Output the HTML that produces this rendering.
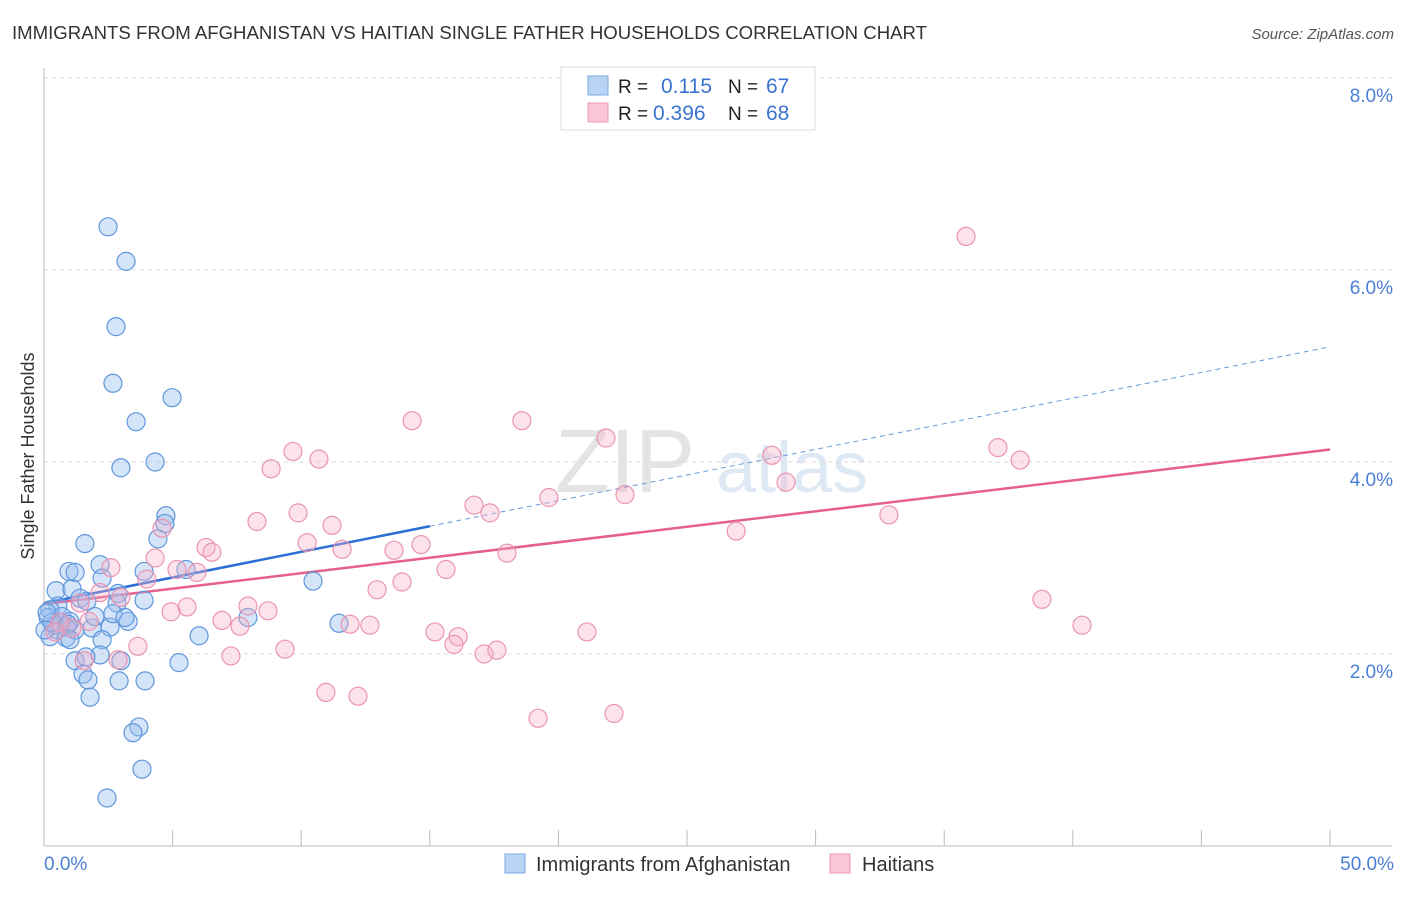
<!DOCTYPE html>
<html><head><meta charset="utf-8"><style>
body{margin:0;background:#fff;font-family:"Liberation Sans",sans-serif;}
svg text{font-family:"Liberation Sans",sans-serif;}
</style></head><body>
<svg id="chart" width="1406" height="892">
<text x="12" y="39" font-size="18.6" fill="#333">IMMIGRANTS FROM AFGHANISTAN VS HAITIAN SINGLE FATHER HOUSEHOLDS CORRELATION CHART</text>
<text x="1394" y="39" font-size="15" fill="#555" font-style="italic" text-anchor="end">Source: ZipAtlas.com</text>
<text transform="translate(34,456) rotate(-90)" font-size="18" fill="#333" text-anchor="middle">Single Father Households</text>
<g><text x="555" y="492" font-size="90" fill="#e4e4e4" font-family="Liberation Serif">ZIP</text><text x="716" y="492" font-size="72" fill="#dfe8f5">atlas</text></g>
<g id="grid"></g><g id="axes"></g><g id="trends"></g><g id="pts"></g>
<g>
<rect x="561" y="67" width="254" height="63" fill="#fff" stroke="#ddd"/>
<rect x="588" y="76" width="20" height="19" fill="#b9d3f5" stroke="#7aa8e3"/>
<rect x="588" y="103" width="20" height="19" fill="#f9c6d6" stroke="#ee9ab6"/>
<text x="618" y="93" font-size="19" fill="#222">R = </text><text x="661" y="93" font-size="21" fill="#3a74d0">0.115</text>
<text x="728" y="93" font-size="19" fill="#222">N = </text><text x="766" y="93" font-size="21" fill="#3a74d0">67</text>
<text x="618" y="120" font-size="19" fill="#222">R = </text><text x="653" y="120" font-size="21" fill="#3a74d0">0.396</text>
<text x="728" y="120" font-size="19" fill="#222">N = </text><text x="766" y="120" font-size="21" fill="#3a74d0">68</text>
</g>
<g>
<rect x="505" y="854" width="20" height="19" fill="#b9d3f5" stroke="#7aa8e3"/>
<text x="536" y="871" font-size="20" fill="#333">Immigrants from Afghanistan</text>
<rect x="830" y="854" width="20" height="19" fill="#f9c6d6" stroke="#ee9ab6"/>
<text x="862" y="871" font-size="20" fill="#333">Haitians</text>
</g>
</svg>
<script>
const blueX=[2.49,3.19,2.80,2.68,3.58,4.98,2.99,4.32,4.74,4.70,4.43,1.59,0.97,1.21,2.18,2.26,3.89,5.52,0.47,1.09,1.40,1.67,2.84,0.54,0.23,0.16,0.70,1.01,0.86,0.51,0.23,0.86,1.21,1.87,1.98,2.57,2.68,3.27,3.15,2.26,2.18,1.21,1.63,1.52,1.71,1.79,2.99,2.92,3.93,5.25,6.03,7.93,10.46,11.47,3.69,3.46,3.81,2.45,0.43,0.62,0.04,0.31,0.12,0.93,2.88,3.89,1.01];
const blueY=[6.45,6.09,5.41,4.82,4.42,4.67,3.94,4.00,3.44,3.36,3.20,3.15,2.86,2.85,2.93,2.79,2.86,2.88,2.66,2.68,2.58,2.55,2.53,2.50,2.46,2.38,2.39,2.34,2.28,2.25,2.18,2.17,2.25,2.27,2.39,2.28,2.42,2.34,2.38,2.15,1.99,1.93,1.97,1.79,1.73,1.55,1.93,1.72,1.72,1.91,2.19,2.38,2.76,2.32,1.24,1.18,0.80,0.50,2.30,2.33,2.25,2.33,2.43,2.31,2.63,2.56,2.15];
const pinkX=[35.85,14.31,18.58,21.85,37.09,37.95,28.30,9.68,10.69,8.83,16.72,17.34,19.63,22.59,28.85,32.85,26.91,9.88,8.28,11.20,4.59,6.30,6.53,10.23,11.59,13.61,14.66,18.00,4.32,2.60,5.17,5.95,4.00,15.63,13.92,12.95,7.93,8.71,5.56,4.94,6.92,7.62,11.90,12.67,2.99,2.18,2.88,3.65,7.27,9.37,15.20,16.10,15.94,17.11,17.61,21.11,38.80,40.36,10.96,12.21,19.21,22.16,1.75,1.09,0.62,0.43,1.40,1.56];
const pinkY=[6.35,4.43,4.43,4.25,4.15,4.02,4.07,4.11,4.03,3.93,3.55,3.47,3.63,3.66,3.79,3.45,3.28,3.47,3.38,3.34,3.31,3.11,3.06,3.16,3.09,3.08,3.14,3.05,3.00,2.90,2.88,2.85,2.78,2.88,2.75,2.67,2.50,2.45,2.49,2.44,2.35,2.29,2.31,2.30,2.59,2.64,1.94,2.08,1.98,2.05,2.23,2.18,2.10,2.00,2.04,2.23,2.57,2.30,1.60,1.56,1.33,1.38,2.34,2.27,2.33,2.23,2.53,1.93];
const blueTrend=[2.53,5.20]; // y at x=0 and x=50
const pinkTrend=[2.52,4.13];
const yTicks=[2,4,6,8];
const yTickLabels=["2.0%","4.0%","6.0%","8.0%"];
const xTicks=[0,5,10,15,20,25,30,35,40,45,50];
const NS="http://www.w3.org/2000/svg";
const X=v=>44+v*25.72, Y=v=>846-v*96;
function mk(tag,parent,attrs){const e=document.createElementNS(NS,tag);for(const k in attrs)e.setAttribute(k,attrs[k]);document.getElementById(parent).appendChild(e);return e;}
yTicks.forEach((t,i)=>{
 const g=mk('line','grid',{x1:44,x2:1392,y1:Y(t),y2:Y(t),stroke:'#ddd','stroke-dasharray':'4,4'});
 
 
 const l=mk('text','axes',{x:1393,y:Y(t)+24,'font-size':19,fill:'#4a7fd6','text-anchor':'end'});
 l.textContent=yTickLabels[i];
 
 
});
const ax=mk('line','axes',{x1:44,x2:44,y1:68,y2:846,stroke:'#bbb'});


const bx=mk('line','axes',{x1:44,x2:1392,y1:846,y2:846,stroke:'#bbb'});


xTicks.forEach(t=>{mk('line','axes',{x1:X(t),x2:X(t),y1:830,y2:846,stroke:'#bbb'});});
const x0=mk('text','axes',{x:44,y:870,'font-size':19,fill:'#4a7fd6'});x0.textContent='0.0%';


const x1=mk('text','axes',{x:1394,y:870,'font-size':19,fill:'#4a7fd6','text-anchor':'end'});x1.textContent='50.0%';


function pts(xs,ys,fill,stroke,name){xs.forEach((x,i)=>{const c=mk('circle','pts',{cx:X(x),cy:Y(ys[i]),r:9,fill:fill,stroke:stroke,'stroke-width':1.2});
 
 });}
pts(blueX,blueY,'rgba(150,190,240,0.4)','#5f96db','point-afghanistan');
pts(pinkX,pinkY,'rgba(245,175,198,0.35)','#ea94b2','point-haitians');
const bAt=x=>blueTrend[0]+(blueTrend[1]-blueTrend[0])*x/50;
const pAt=x=>pinkTrend[0]+(pinkTrend[1]-pinkTrend[0])*x/50;
const bl=mk('line','trends',{x1:X(0),y1:Y(bAt(0)),x2:X(15),y2:Y(bAt(15)),stroke:'#2a6fd6','stroke-width':2.5});


const bd=mk('line','trends',{x1:X(15),y1:Y(bAt(15)),x2:X(50),y2:Y(bAt(50)),stroke:'#6a9ad8','stroke-width':1,'stroke-dasharray':'5,4'});


const pl=mk('line','trends',{x1:X(0),y1:Y(pAt(0)),x2:X(50),y2:Y(pAt(50)),stroke:'#e5608c','stroke-width':2.5});


</script>
</body></html>
